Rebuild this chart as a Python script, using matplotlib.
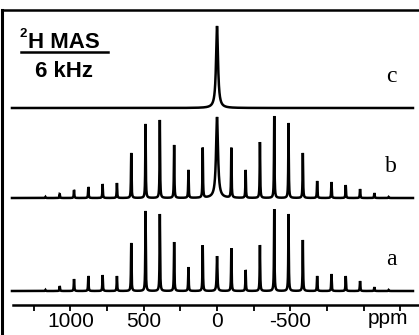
import numpy as np
import matplotlib
matplotlib.use("Agg")
import matplotlib.pyplot as plt
from matplotlib.ticker import FixedLocator

# ===== data =====
SPACING_PPM = 97.5                      # sideband spacing (6 kHz)
orders = np.arange(12, -13, -1)         # sideband order, left (high ppm) to right
heights_a = [1, 5, 12, 15, 16, 15, 48, 80, 77, 49, 24, 46, 35,
             43, 21, 46, 82, 77, 51, 15, 17, 15, 10, 4, 1]
heights_b = [1, 4, 8, 11, 14, 15, 45, 74, 78, 53, 28, 50, 81,
             50, 28, 56, 82, 75, 45, 17, 16, 13, 9, 5, 1]
height_c = 82                           # isotropic line at 0 ppm
trace_labels = ["a", "b", "c"]

major_ticks = [1000, 500, 0, -500]
minor_ticks = [1250, 750, 250, -250, -750, -1000, -1250]

# ===== lineshapes =====
ppm = np.linspace(1398, -1336, 9000)


def lorentz(x, x0, h, w):
    return h * w ** 2 / ((x - x0) ** 2 + w ** 2)


def spectrum(heights, w_side, w_center):
    y = np.zeros_like(ppm)
    for n, h in zip(orders, heights):
        w = w_center if n == 0 else w_side
        y += lorentz(ppm, n * SPACING_PPM, h, w)
    return y


spec_a = spectrum(heights_a, 2.0, 3.0)
spec_b = spectrum(heights_b, 2.0, 8.0)
spec_c = lorentz(ppm, 0.0, height_c, 8.0)

# vertical offsets of the stacked traces
offsets = [44, 137, 227]

# ===== plot =====
fig = plt.figure(figsize=(4.19, 3.35), dpi=100)
ax = fig.add_axes([2 / 419, 0, 417 / 419, 325 / 335])

for spec, off in zip([spec_a, spec_b, spec_c], offsets):
    ax.plot(ppm, spec + off, color="black", lw=1.8, solid_joinstyle="miter")

ax.set_xlim(1466, -1377)
ax.set_ylim(0, 325)

ax.spines["right"].set_visible(False)
ax.spines["left"].set_linewidth(2.2)
ax.spines["top"].set_linewidth(1.8)
ax.spines["bottom"].set_position(("data", 30))
ax.spines["bottom"].set_bounds(1391, -1377)
ax.spines["bottom"].set_linewidth(1.8)

ax.xaxis.set_major_locator(FixedLocator(major_ticks))
ax.xaxis.set_minor_locator(FixedLocator(minor_ticks))
ax.set_xticklabels([str(t) for t in major_ticks],
                   fontfamily="Liberation Sans", fontsize=15)
ax.tick_params(axis="x", which="both", direction="out", length=4.5,
               width=1.3, pad=0.5)
ax.set_yticks([])

ax.text(-1165, 17, "ppm", ha="center", va="center",
        fontfamily="Liberation Sans", fontsize=15)

# trace labels
label_y = [70, 163, 253]
for lab, y in zip(trace_labels, label_y):
    ax.text(-1186, y, lab, ha="center", va="baseline",
            fontfamily="Liberation Serif", fontsize=17)

# experiment label
ax.text(1350, 298, "2", ha="left", va="baseline",
        fontfamily="Liberation Sans", fontweight="bold", fontsize=9.5)
ax.text(1289, 287, "H MAS", ha="left", va="baseline",
        fontfamily="Liberation Sans", fontweight="bold", fontsize=16)
ax.plot([1336, 743], [283, 283], color="black", lw=1.8, clip_on=False)
ax.text(1043, 258, "6 kHz", ha="center", va="baseline",
        fontfamily="Liberation Sans", fontweight="bold", fontsize=16)

fig.savefig("out.png", dpi=100)
